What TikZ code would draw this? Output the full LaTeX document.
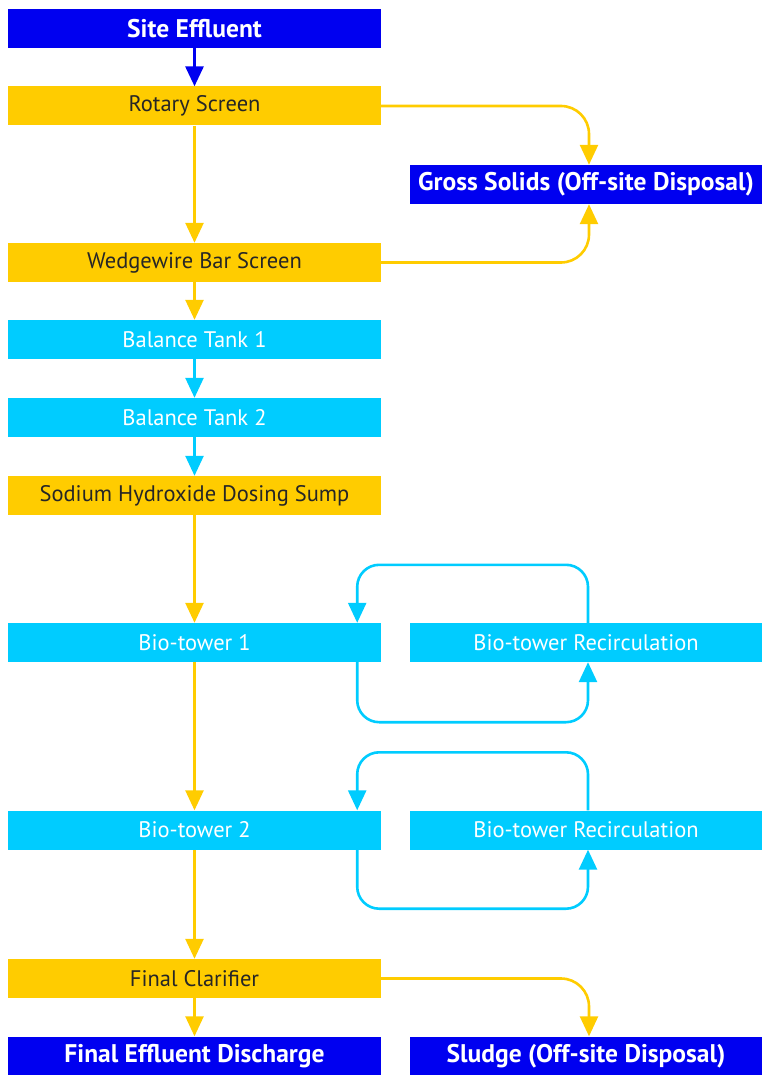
\documentclass[tikz,border=0pt]{standalone}
\usepackage{fontspec}
\setmainfont{PT Sans}
\usetikzlibrary{arrows.meta}
\definecolor{dblue}{RGB}{0,0,240}
\definecolor{ylw}{RGB}{255,204,0}
\definecolor{cyn}{RGB}{0,204,255}
\tikzset{
  box/.style={rectangle, inner sep=0pt, minimum height=39pt, font=\fontsize{22.5}{24}\selectfont},
  lbox/.style={box, minimum width=373pt},
  rbox/.style={box, minimum width=353pt},
  bluebox/.style={fill=dblue, text=white, font=\fontsize{25.5}{27}\selectfont\bfseries},
  ybox/.style={fill=ylw, text=black!85},
  cbox/.style={fill=cyn, text=white},
  tip/.style={-{Triangle[length=20pt,width=18pt]}},
  barrow/.style={tip, draw=dblue, line width=3pt},
  yarrow/.style={tip, draw=ylw, line width=2.6pt},
  carrow/.style={tip, draw=cyn, line width=2.6pt},
}
\begin{document}
\begin{tikzpicture}[x=1pt,y=-1pt]
\useasboundingbox (0,0) rectangle (762,1075);
% left column
\node[lbox,bluebox] (site) at (194.5,28.5) {Site Effluent};
\node[lbox,ybox] (rotary) at (194.5,106) {Rotary Screen};
\node[lbox,ybox] (wedge) at (194.5,262.5) {Wedgewire Bar Screen};
\node[lbox,cbox] (bal1) at (194.5,339.5) {Balance Tank 1};
\node[lbox,cbox] (bal2) at (194.5,417.5) {Balance Tank 2};
\node[lbox,ybox] (sodium) at (194.5,495.5) {Sodium Hydroxide Dosing Sump};
\node[lbox,cbox] (bio1) at (194.5,642.5) {Bio-tower 1};
\node[lbox,cbox] (bio2) at (194.5,830) {Bio-tower 2};
\node[lbox,ybox] (clar) at (194.5,978.5) {Final Clarifier};
\node[lbox,bluebox] (final) at (194.5,1056) {Final Effluent Discharge};
% right column
\node[rbox,bluebox] (gross) at (586,184.5) {Gross Solids (Off-site Disposal)};
\node[rbox,cbox] (rec1) at (586,642.5) {Bio-tower Recirculation};
\node[rbox,cbox] (rec2) at (586,830) {Bio-tower Recirculation};
\node[rbox,bluebox] (sludge) at (586,1056) {Sludge (Off-site Disposal)};
% main flow
\draw[barrow] (site) -- (rotary);
\draw[yarrow] (rotary) -- (wedge);
\draw[yarrow] (wedge) -- (bal1);
\draw[carrow] (bal1) -- (bal2);
\draw[carrow] (bal2) -- (sodium);
\draw[yarrow] (sodium) -- (bio1);
\draw[yarrow] (bio1) -- (bio2);
\draw[yarrow] (bio2) -- (clar);
\draw[yarrow] (clar) -- (final);
% side flows
\draw[yarrow, rounded corners=28pt] (rotary.east) -| ([xshift=3pt]gross.north);
\draw[yarrow, rounded corners=28pt] (wedge.east) -| ([xshift=3pt]gross.south);
\draw[yarrow, rounded corners=28pt] (clar.east) -| ([xshift=3pt]sludge.north);
% recirculation loops
\draw[carrow, rounded corners=22pt] ([xshift=2pt]rec1.north) -- ++(0,-58) -| ([xshift=-24pt]bio1.north east);
\draw[carrow, rounded corners=22pt] ([xshift=-24pt]bio1.south east) -- ++(0,60) -| ([xshift=2pt]rec1.south);
\draw[carrow, rounded corners=22pt] ([xshift=2pt]rec2.north) -- ++(0,-58) -| ([xshift=-24pt]bio2.north east);
\draw[carrow, rounded corners=22pt] ([xshift=-24pt]bio2.south east) -- ++(0,59) -| ([xshift=2pt]rec2.south);
\end{tikzpicture}
\end{document}
